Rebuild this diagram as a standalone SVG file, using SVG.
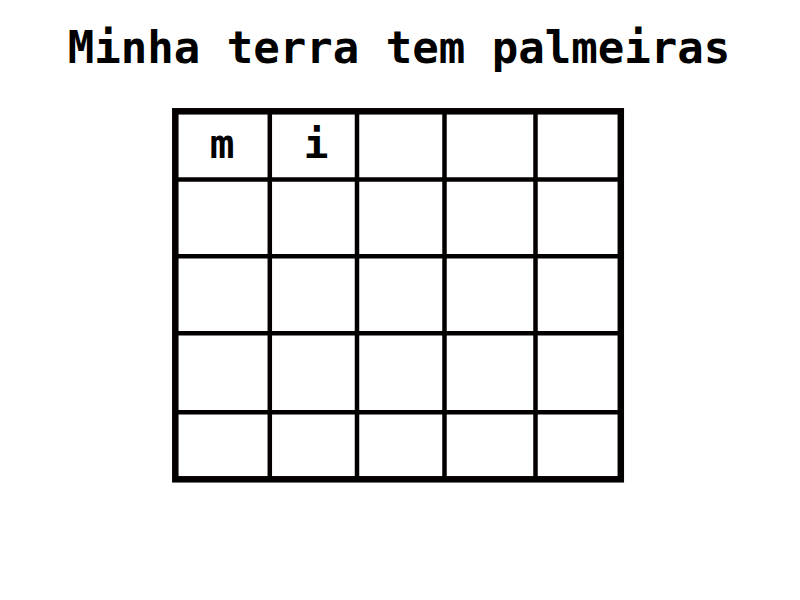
<svg xmlns="http://www.w3.org/2000/svg" width="800" height="600" viewBox="0 0 800 600">
<style>
.t{font-family:"DejaVu Sans Mono","Liberation Mono",monospace;font-weight:bold;fill:#000;text-anchor:middle}
.g{stroke:#050000;stroke-width:4.5;fill:none}
.b{stroke:#050000;stroke-width:6.5;fill:none}
</style>
<rect width="800" height="600" fill="#fff"/>
<text class="t" x="399" y="63" font-size="44">Minha terra tem palmeiras</text>
<g id="grid">
<rect class="b" x="175.3" y="111.3" width="445.5" height="368"/>
<g id="lines">
<line class="g" x1="269.8" y1="111" x2="269.8" y2="479"/>
<line class="g" x1="357" y1="111" x2="357" y2="479"/>
<line class="g" x1="444.5" y1="111" x2="444.5" y2="479"/>
<line class="g" x1="535.5" y1="111" x2="535.5" y2="479"/>
<line class="g" x1="175" y1="179.5" x2="621" y2="179.5"/>
<line class="g" x1="175" y1="256.3" x2="621" y2="256.3"/>
<line class="g" x1="175" y1="333.3" x2="621" y2="333.3"/>
<line class="g" x1="175" y1="412.3" x2="621" y2="412.3"/>
</g>
</g>
<g id="cell-m"><text class="t" x="222" y="158" font-size="41">m</text></g>
<g id="cell-i"><text class="t" x="316" y="158" font-size="41">i</text></g>
</svg>
